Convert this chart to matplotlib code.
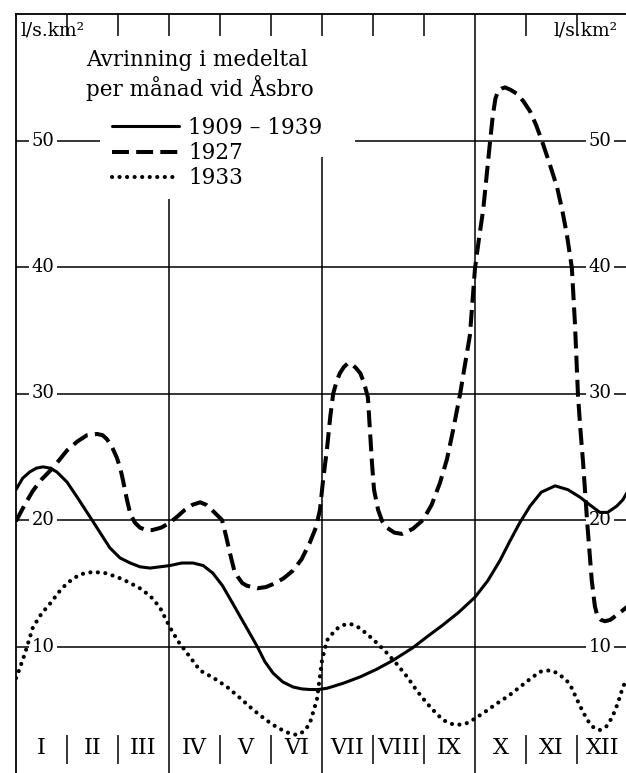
import numpy as np
import matplotlib.pyplot as plt

plt.rcParams['font.family'] = ['DejaVu Serif']

# month position (0 = start of Jan, 12 = end of Dec), runoff in l/s.km2
mean_x = [0.0, 0.13, 0.27, 0.40, 0.53, 0.67, 0.80, 1.00, 1.20, 1.49, 1.84, 2.04,
          2.24, 2.43, 2.63, 3.02, 3.25, 3.47, 3.67, 3.86, 4.05, 4.25, 4.49, 4.73,
          4.88, 5.04, 5.23, 5.43, 5.60, 5.76, 5.93, 6.10, 6.42, 6.75, 7.07, 7.39,
          7.78, 8.07, 8.37, 8.68, 9.00, 9.25, 9.49, 9.68, 9.88, 10.08, 10.30,
          10.57, 10.82, 11.06, 11.25, 11.45, 11.60, 11.78, 11.90, 12.0]
mean_y = [22.4, 23.3, 23.8, 24.1, 24.2, 24.1, 23.8, 23.0, 21.8, 20.0, 17.8, 17.0,
          16.6, 16.3, 16.2, 16.4, 16.6, 16.6, 16.4, 15.8, 14.8, 13.4, 11.7, 10.0,
          8.8, 7.9, 7.2, 6.8, 6.65, 6.6, 6.6, 6.7, 7.1, 7.6, 8.2, 8.9,
          9.9, 10.8, 11.7, 12.7, 13.9, 15.2, 16.8, 18.3, 19.8, 21.1, 22.2,
          22.7, 22.4, 21.8, 21.2, 20.6, 20.6, 21.1, 21.6, 22.3]

y1927_x = [0.0, 0.17, 0.33, 0.50, 0.67, 0.84, 1.0, 1.20, 1.39, 1.59, 1.70, 1.78,
           1.88, 1.98, 2.05, 2.10, 2.17, 2.24, 2.33, 2.43, 2.55, 2.67, 2.85, 3.02,
           3.17, 3.31, 3.46, 3.61, 3.73, 3.84, 3.94, 4.04, 4.12, 4.20, 4.28, 4.35,
           4.44, 4.53, 4.73, 4.90, 5.08, 5.25, 5.43, 5.60, 5.76, 5.88, 5.96, 6.02,
           6.10, 6.16, 6.22, 6.29, 6.35, 6.43, 6.51, 6.59, 6.67, 6.75, 6.82, 6.90,
           6.94, 6.98, 7.02, 7.10, 7.18, 7.27, 7.42, 7.57, 7.78, 7.98, 8.15, 8.31,
           8.45, 8.57, 8.71, 8.80, 8.90, 9.00, 9.08, 9.16, 9.23, 9.29, 9.35, 9.40,
           9.45, 9.52, 9.59, 9.70, 9.82, 9.95, 10.08, 10.20, 10.31, 10.46, 10.61,
           10.71, 10.80, 10.90, 10.96, 11.02, 11.07, 11.12, 11.20, 11.29, 11.35,
           11.40, 11.47, 11.55, 11.65, 11.75, 11.88, 12.0]
y1927_y = [19.9, 21.2, 22.3, 23.2, 23.9, 24.7, 25.5, 26.2, 26.7, 26.8, 26.7, 26.4,
           25.8, 24.9, 24.0, 23.1, 21.7, 20.5, 19.8, 19.4, 19.2, 19.2, 19.4, 19.8,
           20.3, 20.8, 21.2, 21.4, 21.2, 20.8, 20.4, 20.0, 18.7, 17.3, 16.0, 15.5,
           15.0, 14.8, 14.6, 14.7, 15.0, 15.4, 16.0, 16.9, 18.2, 19.4, 20.8, 23.1,
           25.7, 28.1, 30.0, 31.0, 31.6, 32.1, 32.4, 32.3, 32.0, 31.6, 30.9, 29.7,
           27.1, 24.5, 22.4, 20.8, 19.9, 19.4, 19.0, 18.9, 19.3, 20.0, 21.2, 22.9,
           24.8, 27.1, 30.0, 32.2, 34.6, 39.9, 42.3, 44.5, 47.3, 49.7, 52.0, 53.3,
           53.9, 54.1, 54.2, 54.0, 53.7, 53.1, 52.3, 51.2, 50.0, 48.2, 46.3,
           44.5, 42.6, 39.9, 35.5, 29.8, 27.0, 24.5, 19.8, 15.2, 13.2,
           12.4, 12.1, 12.0, 12.1, 12.4, 12.8, 13.2]

y1933_x = [0.0, 0.04, 0.18, 0.33, 0.50, 0.67, 0.84, 1.0, 1.25, 1.51, 1.75, 1.98,
           2.20, 2.43, 2.63, 2.82, 3.02, 3.18, 3.35, 3.61, 3.88, 4.14, 4.40, 4.65,
           4.90, 5.12, 5.32, 5.51, 5.65, 5.76, 5.90, 6.0, 6.10, 6.20, 6.29, 6.42,
           6.55, 6.72, 6.88, 7.07, 7.27, 7.47, 7.67, 7.86, 8.06, 8.22, 8.37, 8.52,
           8.65, 8.82, 9.0, 9.22, 9.43, 9.66, 9.88, 10.07, 10.27, 10.40, 10.51,
           10.65, 10.80, 10.90, 11.0, 11.12, 11.25, 11.35, 11.45, 11.58, 11.69,
           11.80, 11.90, 12.0]
y1933_y = [7.5, 7.9, 9.5, 11.5, 12.6, 13.4, 14.3, 15.0, 15.7, 15.9, 15.8, 15.5,
           15.1, 14.6, 14.0, 13.1, 11.5, 10.4, 9.5, 8.1, 7.5, 6.8, 5.9, 5.0,
           4.2, 3.6, 3.2, 3.0, 3.3, 3.9, 5.8, 8.9, 10.5, 11.0, 11.4, 11.7,
           11.8, 11.5, 11.0, 10.3, 9.5, 8.6, 7.6, 6.5, 5.5, 4.8, 4.2, 3.9,
           3.8, 3.9, 4.3, 4.9, 5.5, 6.1, 6.8, 7.4, 8.0, 8.1, 8.1,
           7.8, 7.3, 6.7, 5.8, 4.8, 3.9, 3.5, 3.4, 3.7, 4.4,
           5.5, 6.8, 7.6]

months = ['I', 'II', 'III', 'IV', 'V', 'VI', 'VII', 'VIII', 'IX', 'X', 'XI', 'XII']
grid_vals = [10, 20, 30, 40, 50]
series_labels = ['1909 – 1939', '1927', '1933']

fig = plt.figure(figsize=(6.26, 7.73), dpi=100)
ax = fig.add_axes([16 / 626, 0, 612 / 626, 759 / 773])
ax.set_xlim(0, 12)
ax.set_ylim(0, 60)
ax.set_xticks([])
ax.set_yticks([])
ax.spines['bottom'].set_visible(False)
for s in ['top', 'left', 'right']:
    ax.spines[s].set_linewidth(1.3)

# grid
glw = 1.1
for v in grid_vals:
    if v == 50:
        ax.hlines(v, 0, 1.65, color='k', lw=glw, zorder=1)
        ax.hlines(v, 6.65, 12, color='k', lw=glw, zorder=1)
    else:
        ax.hlines(v, 0, 12, color='k', lw=glw, zorder=1)
    for xl in [0.53, 11.45]:
        ax.text(xl, v, str(v), ha='center', va='center', fontsize=13, zorder=2,
                bbox=dict(boxstyle='square,pad=0.12', fc='white', ec='none'))

ax.vlines(3, 0, 45.4, color='k', lw=glw, zorder=1)
ax.vlines(6, 0, 48.7, color='k', lw=glw, zorder=1)
ax.vlines(9, 0, 60, color='k', lw=glw, zorder=1)
# short ticks at the top and month separators at the bottom
for b in range(1, 12):
    if b != 9:
        ax.vlines(b, 58.3, 60, color='k', lw=glw, zorder=1)
    if b not in (3, 6, 9):
        ax.vlines(b, 0.7, 3.0, color='k', lw=glw, zorder=1)

for i, m in enumerate(months):
    ax.text(i + 0.5, 1.95, m, ha='center', va='center', fontsize=16)

# curves
ax.plot(mean_x, mean_y, color='k', lw=2.2, zorder=3, label=series_labels[0],
        solid_capstyle='round', solid_joinstyle='round')
ax.plot(y1927_x, y1927_y, color='k', lw=2.9, zorder=3, label=series_labels[1],
        linestyle=(0, (4.2, 1.8)))
ax.plot(y1933_x, y1933_y, color='k', lw=3.0, zorder=3, label=series_labels[2],
        linestyle=(0, (0.01, 1.8)), dash_capstyle='round')

# units
ax.text(0.08, 58.7, 'l/s.km²', ha='left', va='center', fontsize=13.5)
ax.text(10.53, 58.7, 'l/s.km²', ha='left', va='center', fontsize=13.5)

# title and legend
fig.text(86 / 626, 1 - 60 / 773, 'Avrinning i medeltal', ha='left', va='center',
         fontsize=15.5)
fig.text(86 / 626, 1 - 88 / 773, 'per månad vid Åsbro', ha='left', va='center',
         fontsize=15.5)
leg = ax.legend(loc='upper left', bbox_to_anchor=(112 / 626, 1 - 117 / 773),
                bbox_transform=fig.transFigure, frameon=False, fontsize=15.5,
                handlelength=3.1, handletextpad=0.45, labelspacing=0.15,
                borderpad=0, borderaxespad=0)

fig.savefig('out.png', dpi=100)
